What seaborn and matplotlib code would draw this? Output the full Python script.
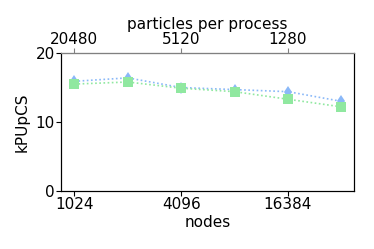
import numpy as np
import pandas as pd
import matplotlib
matplotlib.use('Agg')
import matplotlib.pyplot as plt
import seaborn as sns

nodes = [1024, 2048, 4096, 8192, 16384, 32768]
series_a = [15.9, 16.4, 15.0, 14.7, 14.4, 13.0]
series_b = [15.5, 15.8, 14.9, 14.4, 13.3, 12.2]
bottom_ticks = [1024, 4096, 16384]
top_labels = ['20480', '5120', '1280']

sns.set_style('ticks', rc={'axes.edgecolor': 'black', 'text.color': 'black',
                           'axes.labelcolor': 'black', 'xtick.color': 'black',
                           'ytick.color': 'black'})
plt.rcParams['font.family'] = ['DejaVu Sans']
plt.rcParams['font.size'] = 11
plt.rcParams['xtick.major.size'] = 3.5
plt.rcParams['ytick.major.size'] = 3.5

df = pd.DataFrame({'nodes': nodes + nodes,
                   'kPUpCS': series_a + series_b,
                   'run': ['a'] * 6 + ['b'] * 6})

fig, ax = plt.subplots(figsize=(3.74, 2.49), dpi=100)
fig.subplots_adjust(left=0.163, right=0.947, top=0.787, bottom=0.233)

sns.lineplot(data=df, x='nodes', y='kPUpCS', hue='run', style='run',
             palette={'a': '#8ab8f8', 'b': '#90e8a0'},
             markers={'a': 'd', 'b': 's'}, dashes={'a': (1, 1.5), 'b': (1, 1.5)},
             markersize=6, markeredgewidth=0, linewidth=1.2, legend=False, ax=ax)
for ln in ax.lines:
    if ln.get_marker() == 's':
        ln.set_markersize(6.5)
    else:
        ln.set_markersize(6)

ax.set_xscale('log', base=2)
ax.set_xlim(2 ** 9.75, 2 ** 15.24)
ax.set_ylim(0, 20)
ax.set_yticks([0, 10, 20])
ax.set_xticks(bottom_ticks)
ax.set_xticklabels([str(t) for t in bottom_ticks])
ax.minorticks_off()
ax.set_xlabel('nodes', labelpad=2)
ax.set_ylabel('kPUpCS', labelpad=4)
ax.tick_params(labelsize=11, pad=1)

ax2 = ax.twiny()
ax2.set_xscale('log', base=2)
ax2.set_xlim(ax.get_xlim())
ax2.set_xticks(bottom_ticks)
ax2.set_xticklabels(top_labels)
ax2.minorticks_off()
ax2.tick_params(labelsize=11, pad=1, color='gray')
ax2.spines['top'].set_color('gray')
ax2.set_xlabel('particles per process', labelpad=2)

fig.savefig('out.png', dpi=100)
